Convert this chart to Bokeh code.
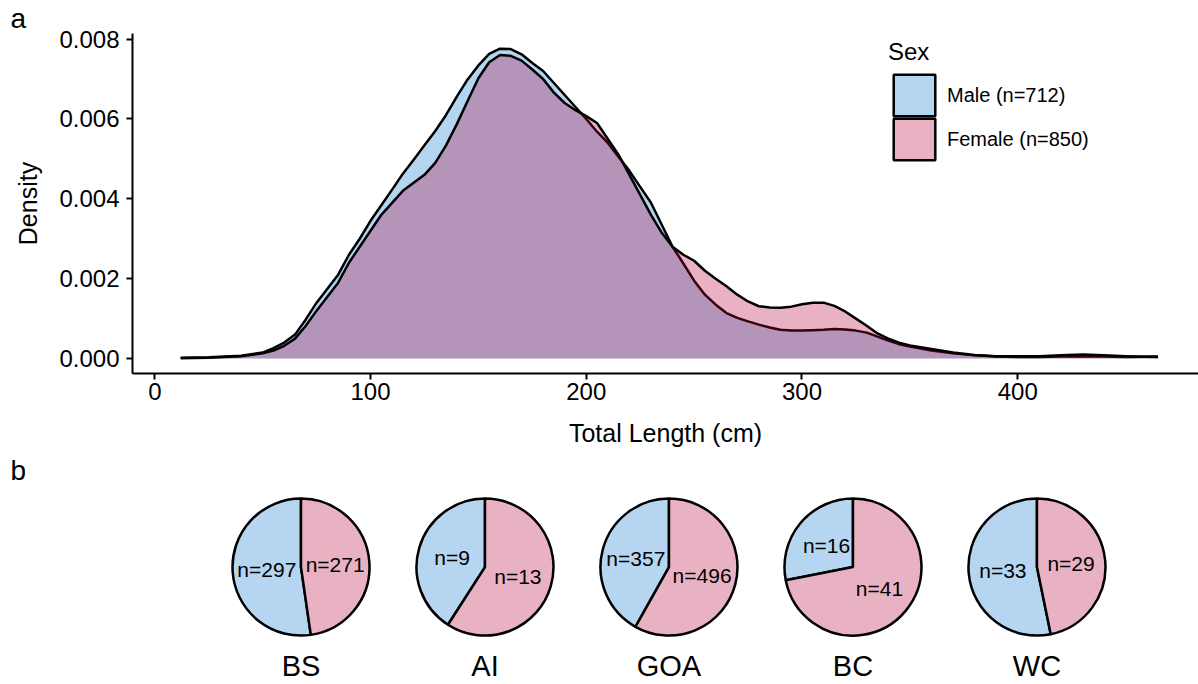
import math
import numpy as np
from bokeh.plotting import figure
from bokeh.layouts import column
from bokeh.models import (Range1d, FixedTicker, PrintfTickFormatter, Legend,
                          LegendItem, ColumnDataSource)
from bokeh.core.properties import value
from bokeh.embed import file_html
from bokeh.resources import INLINE

FONT = "Liberation Sans"

# ---------------- data ----------------
length_cm = [12, 25, 40, 50, 55, 60, 65, 70, 75, 80, 85, 90, 95, 100, 105,
             110, 115, 120, 125, 130, 135, 140, 145, 150, 155, 160, 165, 170,
             175, 180, 185, 190, 195, 200, 205, 210, 215, 220, 225, 230, 235,
             240, 245, 250, 255, 260, 265, 270, 275, 280, 285, 290, 295, 300,
             305, 310, 315, 320, 325, 330, 335, 340, 345, 350, 360, 370, 380,
             390, 400, 410, 420, 430, 440, 450, 465]
male_density = [0.00002, 0.00003, 0.00007, 0.00015, 0.00026, 0.0004, 0.0006,
                0.00098, 0.0014, 0.00175, 0.0021, 0.0026, 0.0030, 0.00345,
                0.00384, 0.00423, 0.00463, 0.00498, 0.00534, 0.0057, 0.0061,
                0.00656, 0.00699, 0.00734, 0.00763, 0.00776, 0.00775, 0.00762,
                0.0074, 0.0072, 0.0069, 0.0066, 0.0063, 0.0060, 0.00568,
                0.0054, 0.00505, 0.0047, 0.0043, 0.0039, 0.00335, 0.0028,
                0.00238, 0.00195, 0.0016, 0.00135, 0.00114, 0.00102, 0.00093,
                0.00085, 0.00078, 0.00072, 0.0007, 0.0007, 0.00071, 0.00072,
                0.00074, 0.00073, 0.0007, 0.00065, 0.00055, 0.00045, 0.00036,
                0.0003, 0.0002, 0.00013, 0.00008, 0.00005, 0.00004, 0.00004,
                0.00005, 0.00006, 0.00005, 0.00004, 0.00005]
female_density = [0.00001, 0.00002, 0.00006, 0.00013, 0.0002, 0.00032,
                  0.0005, 0.00082, 0.0012, 0.00155, 0.0019, 0.0024, 0.0028,
                  0.0032, 0.0036, 0.0039, 0.0042, 0.0044, 0.0046, 0.0049,
                  0.00534, 0.00587, 0.00645, 0.00702, 0.00742, 0.0076,
                  0.00758, 0.00746, 0.00724, 0.007, 0.00666, 0.0064, 0.00622,
                  0.00607, 0.0059, 0.0055, 0.0051, 0.0046, 0.0041, 0.0036,
                  0.00315, 0.0028, 0.0026, 0.00245, 0.0022, 0.002, 0.00181,
                  0.0016, 0.00143, 0.00131, 0.00128, 0.00127, 0.0013, 0.00136,
                  0.0014, 0.0014, 0.00132, 0.00118, 0.001, 0.00082, 0.00063,
                  0.0005, 0.0004, 0.00033, 0.00024, 0.00015, 0.00009,
                  0.00006, 0.00006, 0.00006, 0.00008, 0.0001, 0.00008,
                  0.00006, 0.00004]

sex_labels = ["Male (n=712)", "Female (n=850)"]
x_ticks = [0, 100, 200, 300, 400]
y_ticks = [0.0, 0.002, 0.004, 0.006, 0.008]

regions = ["BS", "AI", "GOA", "BC", "WC"]
male_counts = [297, 9, 357, 16, 33]
female_counts = [271, 13, 496, 41, 29]

# ---------------- styles ----------------
MALE_BASE = "#0873CD"
FEMALE_BASE = "#B60037"
ALPHA = 0.3
MALE_LIGHT = "#B5D5F0"
FEMALE_LIGHT = "#E9B2C3"
LW = 2.5

# ---------------- panel a ----------------
p = figure(width=1198, height=452, x_range=Range1d(-10.34, 483.8),
           y_range=Range1d(-0.000374, 0.00814), output_backend="svg",
           toolbar_location=None, min_border_left=132, min_border_right=0,
           min_border_top=32, min_border_bottom=79)
p.outline_line_color = None
p.xgrid.visible = False
p.ygrid.visible = False

p.title.text = "a"
p.title.align = "left"
p.title.offset = -122
p.title.standoff = 0
p.title.text_font = FONT
p.title.text_font_size = "28px"
p.title.text_font_style = "normal"
p.title.text_color = "black"

src = ColumnDataSource(dict(x=length_cm, m=male_density, f=female_density,
                            zero=[0.0] * len(length_cm)))
p.varea(x="x", y1="zero", y2="m", source=src, fill_color=MALE_BASE,
        fill_alpha=ALPHA)
p.line(x="x", y="m", source=src, line_color="black", line_width=LW,
       line_join="round")
p.varea(x="x", y1="zero", y2="f", source=src, fill_color=FEMALE_BASE,
        fill_alpha=ALPHA)
p.line(x="x", y="f", source=src, line_color="black", line_width=LW,
       line_join="round")

# legend key proxies (nothing drawn in the plot area)
pm = p.patch(x=np.array([np.nan]), y=np.array([np.nan]), fill_color=MALE_BASE,
             fill_alpha=ALPHA, line_color="black", line_width=2.5)
pf = p.patch(x=np.array([np.nan]), y=np.array([np.nan]),
             fill_color=FEMALE_BASE, fill_alpha=ALPHA, line_color="black",
             line_width=2.5)

for ax in (p.xaxis[0], p.yaxis[0]):
    ax.axis_line_width = 2
    ax.axis_line_color = "black"
    ax.major_tick_line_width = 2
    ax.major_tick_line_color = "black"
    ax.major_tick_out = 6
    ax.major_tick_in = 0
    ax.minor_tick_out = 0
    ax.minor_tick_in = 0
    ax.major_label_text_font = FONT
    ax.major_label_text_font_size = "24px"
    ax.major_label_text_color = "black"
    ax.axis_label_text_font = FONT
    ax.axis_label_text_font_size = "25px"
    ax.axis_label_text_font_style = "normal"
    ax.axis_label_text_color = "black"

p.xaxis[0].ticker = FixedTicker(ticks=x_ticks)
p.xaxis[0].axis_label = "Total Length (cm)"
p.xaxis[0].major_label_standoff = 3
p.xaxis[0].axis_label_standoff = 16

p.yaxis[0].ticker = FixedTicker(ticks=y_ticks)
p.yaxis[0].formatter = PrintfTickFormatter(format="%.3f")
p.yaxis[0].axis_label = "Density"
p.yaxis[0].major_label_standoff = 7
p.yaxis[0].axis_label_standoff = 14

leg_style = dict(label_text_font=FONT, label_text_font_size="20px",
                 label_text_color="black", glyph_width=52, glyph_height=52,
                 label_standoff=7, padding=0, margin=0,
                 background_fill_alpha=0, border_line_alpha=0)
legend_m = Legend(items=[LegendItem(label=sex_labels[0], renderers=[pm])],
                  location=(756, 252), title="Sex",
                  title_text_font=FONT, title_text_font_size="24px",
                  title_text_font_style="normal", title_text_color="black",
                  title_standoff=3, **leg_style)
legend_f = Legend(items=[LegendItem(label=sex_labels[1], renderers=[pf])],
                  location=(756, 208), **leg_style)
p.add_layout(legend_m)
p.add_layout(legend_f)

# ---------------- panel b ----------------
q = figure(width=1198, height=232, x_range=Range1d(-0.9158, 4.878),
           y_range=Range1d(-118, 82), output_backend="svg",
           toolbar_location=None, min_border_left=132, min_border_right=0,
           min_border_top=32, min_border_bottom=0,
           x_axis_location=None, y_axis_location=None)
q.outline_line_color = None
q.xgrid.visible = False
q.ygrid.visible = False

q.title.text = "b"
q.title.align = "left"
q.title.offset = -122
q.title.standoff = 0
q.title.text_font = FONT
q.title.text_font_size = "28px"
q.title.text_font_style = "normal"
q.title.text_color = "black"

idx = list(range(len(regions)))
R = 68.5
totals = [m + f for m, f in zip(male_counts, female_counts)]
m_start = [math.pi / 2 for _ in idx]
m_end = [math.pi / 2 + 2 * math.pi * male_counts[i] / totals[i] for i in idx]
f_start = [math.pi / 2 - 2 * math.pi * female_counts[i] / totals[i] for i in idx]
f_end = [math.pi / 2 for _ in idx]
zeros = [0] * len(idx)

q.wedge(x=idx, y=zeros, radius=R, radius_units="screen", start_angle=m_start,
        end_angle=m_end, fill_color=MALE_LIGHT, line_color="black",
        line_width=LW)
q.wedge(x=idx, y=zeros, radius=R, radius_units="screen", start_angle=f_start,
        end_angle=f_end, fill_color=FEMALE_LIGHT, line_color="black",
        line_width=LW)

lab_x, lab_xo, lab_yo, lab_t = [], [], [], []
for i in idx:
    for cnt, a0, a1 in ((male_counts[i], m_start[i], m_end[i]),
                        (female_counts[i], f_start[i], f_end[i])):
        mid = (a0 + a1) / 2
        lab_x.append(i)
        lab_xo.append(0.5 * R * math.cos(mid))
        lab_yo.append(-0.5 * R * math.sin(mid))
        lab_t.append(f"n={cnt}")
q.text(x=lab_x, y=[0] * len(lab_x), text=lab_t, x_offset=lab_xo,
       y_offset=lab_yo, text_align="center", text_baseline="middle",
       text_font=value(FONT), text_font_size="21px", text_color="black")

q.text(x=idx, y=zeros, text=regions, y_offset=99, text_align="center",
       text_baseline="middle", text_font=value(FONT), text_font_size="29px",
       text_color="black")

layout = column(p, q, spacing=0)
open("out.html", "w").write(file_html(layout, INLINE))
